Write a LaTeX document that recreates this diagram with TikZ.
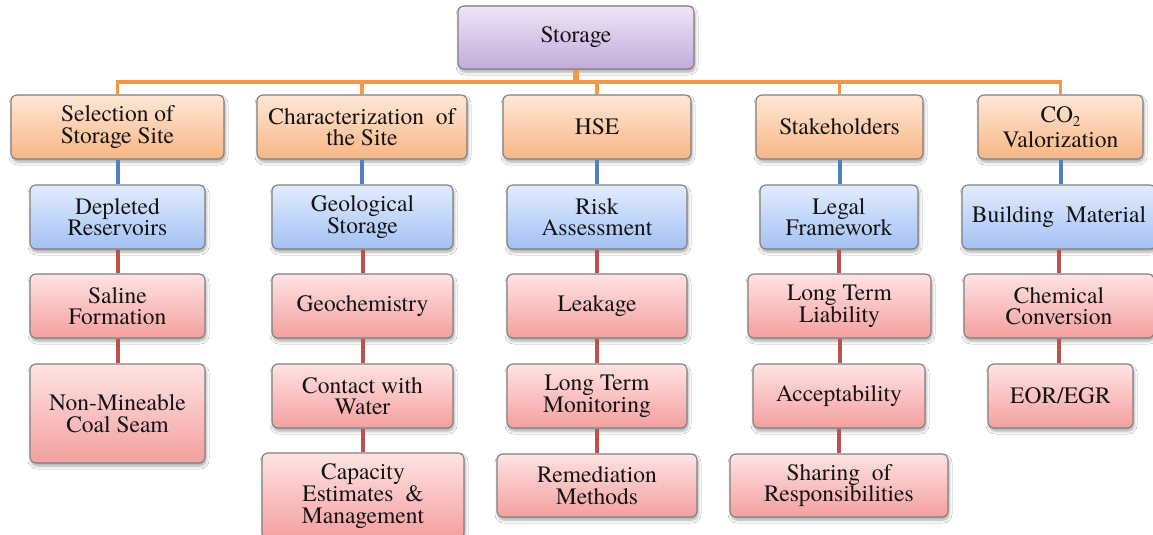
\documentclass[tikz,border=0pt]{standalone}
\usepackage{fontspec}
\setmainfont{TeX Gyre Termes}
\usetikzlibrary{shadows.blur}

\definecolor{purpleT}{HTML}{EDE6F5}
\definecolor{purpleB}{HTML}{C3AADC}
\definecolor{orangeT}{HTML}{FEE8D7}
\definecolor{orangeB}{HTML}{F8B584}
\definecolor{blueT}{HTML}{E2ECFD}
\definecolor{blueB}{HTML}{A3C1F4}
\definecolor{pinkT}{HTML}{FFE3E3}
\definecolor{pinkB}{HTML}{F49F9F}
\definecolor{boxline}{HTML}{7F7F7F}
\definecolor{orangeline}{HTML}{F79646}
\definecolor{blueline}{HTML}{4F81BD}
\definecolor{redline}{HTML}{C0504D}

\newcommand\bxfont{\rmfamily\fontsize{23.5pt}{21.7pt}\selectfont}
\newcommand\wsp{\hspace{0.5em}}

\tikzset{
  box/.style={draw=boxline, line width=1.1pt, rounded corners=6pt, inner sep=0pt,
    align=center, font=\bxfont, text=black!92,
    blur shadow={shadow xshift=1pt, shadow yshift=-3pt, shadow blur radius=3pt, shadow opacity=35}},
  rootbox/.style={box, top color=purpleT, bottom color=purpleB},
  topicbox/.style={box, top color=orangeT, bottom color=orangeB},
  subbox/.style={box, top color=blueT, bottom color=blueB},
  leafbox/.style={box, top color=pinkT, bottom color=pinkB},
  bus/.style={draw=orangeline, line width=3.5pt},
  bluelink/.style={draw=blueline, line width=4pt},
  redlink/.style={draw=redline, line width=4pt},
}

\begin{document}
\begin{tikzpicture}[x=1pt, y=-1pt]
  \fill[white] (0,0) rectangle (1153,535);
  \useasboundingbox (0,0) rectangle (1153,535);
  \clip (0,0) rectangle (1153,535);

  % root
  \node[rootbox, minimum width=236pt, minimum height=63pt] (storage) at (576,37.5) {Storage};
  \coordinate (busmid) at (576,82);

  % first level
  \node[topicbox, minimum width=213pt, minimum height=64pt] (sel)   at (117.5,127) {Selection of\\Storage Site};
  \node[topicbox, minimum width=210pt, minimum height=64pt] (char)  at (362,127)   {Characterization\wsp of\\the Site};
  \node[topicbox, minimum width=188pt, minimum height=64pt] (hse)   at (597,127)   {HSE};
  \node[topicbox, minimum width=167pt, minimum height=64pt] (stake) at (839.5,127) {Stakeholders};
  \node[topicbox, minimum width=165pt, minimum height=64pt] (co2)   at (1060.5,127){CO\raisebox{-0.18em}{\fontsize{15pt}{15pt}\selectfont 2}\\[3pt]Valorization};

  % second level
  \node[subbox, minimum width=175pt, minimum height=64pt] (depl)  at (117.5,217) {Depleted\\Reservoirs};
  \node[subbox, minimum width=181pt, minimum height=64pt] (geo)   at (362.5,217) {Geological\\Storage};
  \node[subbox, minimum width=180pt, minimum height=64pt] (risk)  at (597,217)   {Risk\\Assessment};
  \node[subbox, minimum width=158pt, minimum height=64pt] (legal) at (839,217)   {Legal\\Framework};
  \node[subbox, minimum width=194pt, minimum height=64pt] (build) at (1059,217)  {Building\wsp Material};

  % third level
  \node[leafbox, minimum width=175pt, minimum height=64pt] (saline)  at (117.5,306) {Saline\\Formation};
  \node[leafbox, minimum width=181pt, minimum height=64pt] (geochem) at (362.5,306) {Geochemistry};
  \node[leafbox, minimum width=180pt, minimum height=64pt] (leak)    at (597,306)   {Leakage};
  \node[leafbox, minimum width=183pt, minimum height=64pt] (ltl)     at (839.5,306) {Long Term\\Liability};
  \node[leafbox, minimum width=190pt, minimum height=64pt] (chem)    at (1059,306)  {Chemical\\Conversion};

  % fourth level
  \node[leafbox, minimum width=175pt, minimum height=99pt] (coal)    at (117.5,413.5) {Non-Mineable\\Coal Seam};
  \node[leafbox, minimum width=181pt, minimum height=64pt] (contact) at (362.5,396)   {Contact with\\Water};
  \node[leafbox, minimum width=180pt, minimum height=64pt] (ltm)     at (597,396)     {Long Term\\Monitoring};
  \node[leafbox, minimum width=172pt, minimum height=64pt] (accept)  at (839,396)     {Acceptability};
  \node[leafbox, minimum width=145pt, minimum height=64pt] (eor)     at (1060.5,396)  {EOR/EGR};

  % fifth level
  \node[leafbox, minimum width=202pt, minimum height=86pt] (capac) at (363,496)   {Capacity\\Estimates\wsp\&\\Management};
  \node[leafbox, minimum width=200pt, minimum height=63pt] (remed) at (597,485.5) {Remediation\\Methods};
  \node[leafbox, minimum width=218pt, minimum height=63pt] (share) at (839,485.5) {Sharing\wsp of\\Responsibilities};

  % orange bus from the root to the topics
  \draw[orangeline, line width=6pt] (storage.south) -- (busmid);
  \foreach \t in {sel,char,hse,stake,co2}
    \draw[bus] (busmid) -| (\t.north);

  % topic to sub-topic links
  \draw[bluelink] (sel.south)   -- (depl.north);
  \draw[bluelink] (char.south)  -- (char.south |- geo.north);
  \draw[bluelink] (hse.south)   -- (risk.north);
  \draw[bluelink] (stake.south) -- (stake.south |- legal.north);
  \draw[bluelink] (co2.south)   -- (co2.south |- build.north);

  % chains of details
  \draw[redlink] (depl.south) -- (saline.north);
  \draw[redlink] (saline.south) -- (coal.north);
  \draw[redlink] (geo.south) -- (geochem.north);
  \draw[redlink] (geochem.south) -- (contact.north);
  \draw[redlink] (contact.south) -- (contact.south |- capac.north);
  \draw[redlink] (risk.south) -- (leak.north);
  \draw[redlink] (leak.south) -- (ltm.north);
  \draw[redlink] (ltm.south) -- (remed.north);
  \draw[redlink] (legal.south) -- (legal.south |- ltl.north);
  \draw[redlink] (ltl.south) -- (ltl.south |- accept.north);
  \draw[redlink] (accept.south) -- (share.north);
  \draw[redlink] (build.south) -- (chem.north);
  \draw[redlink] (chem.south) -- (chem.south |- eor.north);
\end{tikzpicture}
\end{document}
